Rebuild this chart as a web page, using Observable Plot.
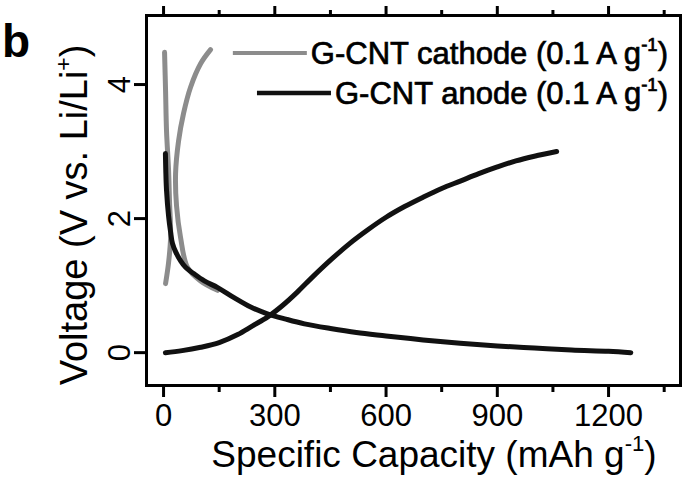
<!DOCTYPE html>
<html><head><meta charset="utf-8">
<script src="https://cdn.jsdelivr.net/npm/d3@7"></script>
<script src="https://cdn.jsdelivr.net/npm/@observablehq/plot@0.6"></script>
<style>
body{margin:0;background:#fff}
#chart{position:relative;width:683px;height:481px;overflow:hidden}
</style>
</head><body><div id="chart"></div>
<script>
// ---- data (specific capacity in mAh/g, voltage in V) ----
const cathodeAX = [2.7, 5.4, 8, 13.5, 16, 19, 13.5, 5.4];
const cathodeAV = [4.48, 3.91, 3.31, 2.72, 2.27, 1.72, 1.34, 1.03];
const cathodeBX = [126.7, 99.8, 72.8, 53.9, 40.5, 32.4, 35, 45.8, 64.7, 99.8, 145.6];
const cathodeBV = [4.52, 4.31, 3.96, 3.57, 3.16, 2.67, 2.19, 1.72, 1.27, 1.07, 0.93];
const anodeDisX = [5, 6, 8, 13.5, 19, 24, 33, 46, 60, 81, 110, 146, 190, 235, 280, 330, 380, 450, 520, 600, 700, 800, 900, 1000, 1100, 1200, 1260];
const anodeDisV = [2.97, 2.72, 2.42, 2.04, 1.8, 1.63, 1.5, 1.37, 1.27, 1.18, 1.07, 0.97, 0.82, 0.68, 0.58, 0.5, 0.43, 0.36, 0.3, 0.25, 0.19, 0.14, 0.1, 0.07, 0.04, 0.02, 0.0];
const anodeChgX = [5, 50, 100, 150, 200, 240, 280, 320, 360, 400, 450, 500, 550, 600, 650, 700, 750, 800, 850, 900, 950, 1000, 1060];
const anodeChgV = [0, 0.03, 0.08, 0.15, 0.27, 0.4, 0.53, 0.7, 0.9, 1.12, 1.38, 1.62, 1.83, 2.02, 2.18, 2.32, 2.45, 2.56, 2.67, 2.77, 2.86, 2.93, 3.0];

const xTicksMajor = [0, 300, 600, 900, 1200];
const xTicksMinor = [150, 450, 750, 1050, 1350];
const yTicks = [0, 2, 4];
const seriesNames = ["G-CNT cathode (0.1 A g", "G-CNT anode (0.1 A g"];
const xTitle = "Specific Capacity (mAh g";
const yTitle = "Voltage (V vs. Li/Li";
const panelLabel = "b";

const zip = (xs, vs) => xs.map((x, i) => ({x, v: vs[i]}));
const cathodeA = zip(cathodeAX, cathodeAV);
const cathodeB = zip(cathodeBX, cathodeBV);
const anodeDis = zip(anodeDisX, anodeDisV);
const anodeChg = zip(anodeChgX, anodeChgV);

const GRAY = "#8c8c8c";
const FONT = "'Liberation Sans', Arial, Helvetica, sans-serif";
const fmt = d => String(d);

const plot = Plot.plot({
  width: 683, height: 481,
  marginLeft: 146, marginRight: 3, marginTop: 15, marginBottom: 96,
  x: {domain: [-46, 1394]},
  y: {domain: [-0.49, 5.03]},
  style: {fontFamily: FONT, background: "white", color: "black", overflow: "visible"},
  marks: [
    Plot.line(cathodeA, {x: "x", y: "v", stroke: GRAY, strokeWidth: 5, curve: "catmull-rom"}),
    Plot.line(cathodeB, {x: "x", y: "v", stroke: GRAY, strokeWidth: 5, curve: "catmull-rom"}),
    Plot.line(anodeDis, {x: "x", y: "v", stroke: "#111", strokeWidth: 5, curve: "catmull-rom"}),
    Plot.line(anodeChg, {x: "x", y: "v", stroke: "#111", strokeWidth: 5, curve: "catmull-rom"}),
    Plot.frame({stroke: "black", strokeWidth: 3}),
    Plot.axisX({ticks: xTicksMajor, tickSize: 12, tickPadding: 6, strokeWidth: 3, fontSize: 31, tickFormat: fmt, label: null}),
    Plot.axisX({ticks: xTicksMinor, tickSize: 7, strokeWidth: 3, tickFormat: () => "", label: null}),
    Plot.axisX({anchor: "top", ticks: xTicksMajor, tickSize: 10, strokeWidth: 3, tickFormat: () => "", label: null}),
    Plot.axisX({anchor: "top", ticks: xTicksMinor, tickSize: 6, strokeWidth: 3, tickFormat: () => "", label: null}),
    Plot.axisY({ticks: yTicks, tickSize: 12, tickPadding: 5, strokeWidth: 3, fontSize: 31, tickRotate: -90, tickFormat: fmt, label: null})
  ]
});
document.getElementById("chart").appendChild(plot);

const svg = d3.select(plot);
function richText(sel, base, sup, after, size, weight) {
  const t = sel.append("text").attr("font-family", FONT).attr("font-size", size)
    .attr("font-weight", weight || "normal").attr("fill", "black");
  t.append("tspan").text(base);
  t.append("tspan").attr("font-size", size * 0.6).attr("dy", -size * 0.42).text(sup);
  t.append("tspan").attr("dy", size * 0.42).text(after);
  return t;
}
// axis titles
richText(svg, xTitle, "-1", ")", 37).attr("x", 434).attr("y", 467).attr("text-anchor", "middle");
richText(svg, yTitle, "+", ")", 38).attr("text-anchor", "middle")
  .attr("transform", "translate(87,215) rotate(-90)");
svg.append("text").attr("x", 16).attr("y", 57).attr("font-family", FONT)
  .attr("font-size", 46).attr("font-weight", "bold").text(panelLabel);

// legend
const legend = [
  {name: seriesNames[0], stroke: GRAY, w: 4, y: 53},
  {name: seriesNames[1], stroke: "#111", w: 4.5, y: 93}
];
legend.forEach(d => {
  const t = richText(svg, d.name, "-1", ")", 31)
    .attr("x", 668).attr("y", d.y + 11).attr("text-anchor", "end")
    .attr("stroke", "black").attr("stroke-width", 0.7);
  const len = t.node().getComputedTextLength();
  const x1 = 668 - len - 4;
  svg.append("line").attr("x1", x1 - 74).attr("x2", x1).attr("y1", d.y).attr("y2", d.y)
    .attr("stroke", d.stroke).attr("stroke-width", d.w);
});
</script>
</body></html>
